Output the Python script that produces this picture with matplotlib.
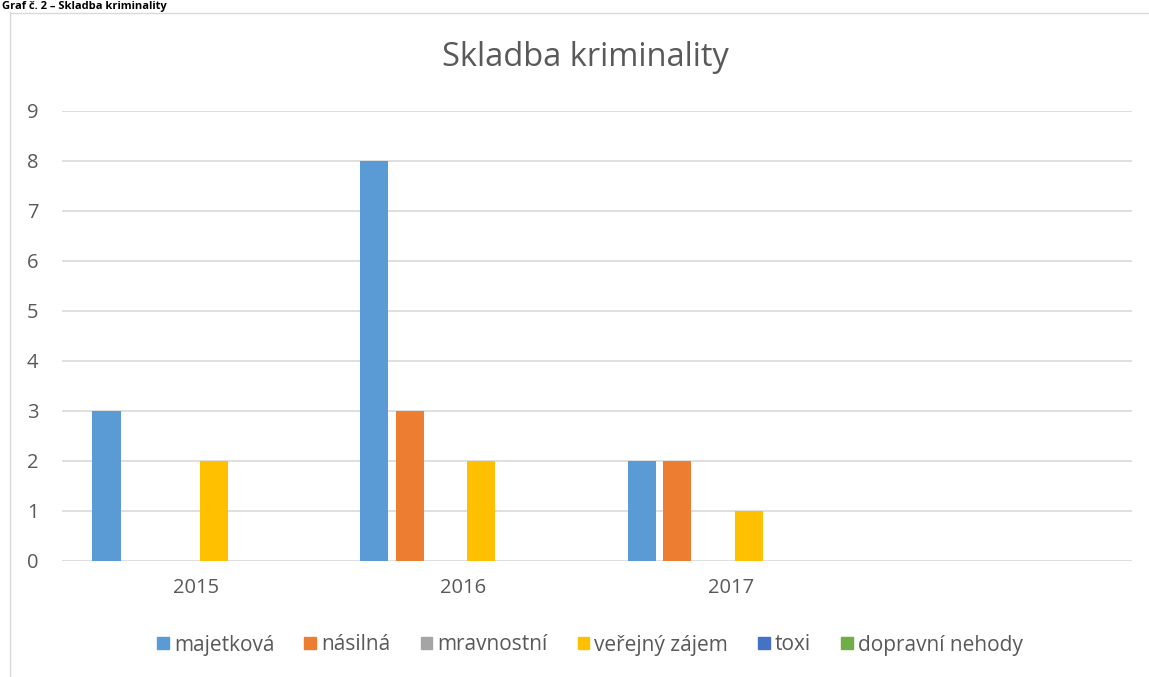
import matplotlib
matplotlib.use("Agg")
import matplotlib.pyplot as plt
from matplotlib.lines import Line2D
import numpy as np

plt.rcParams['font.family'] = ['Open Sans', 'DejaVu Sans']

categories = ["2015", "2016", "2017", ""]
series_names = ["majetková", "násilná", "mravnostní", "veřejný zájem", "toxi", "dopravní nehody"]
majetkova = [3, 8, 2, 0]
nasilna = [0, 3, 2, 0]
mravnostni = [0, 0, 0, 0]
verejny_zajem = [2, 2, 1, 0]
toxi = [0, 0, 0, 0]
dopravni_nehody = [0, 0, 0, 0]
series_values = [majetkova, nasilna, mravnostni, verejny_zajem, toxi, dopravni_nehody]
colors = ["#5B9BD5", "#ED7D31", "#A5A5A5", "#FFC000", "#4472C4", "#70AD47"]

W, H = 1149, 677
fig = plt.figure(figsize=(W / 100, H / 100), dpi=100)

# chart border (partly outside the picture)
fig.add_artist(Line2D([9.5 / W, 9.5 / W], [0, 1 - 12 / H], transform=fig.transFigure, color="#D9D9D9", lw=1))
fig.add_artist(Line2D([9.5 / W, 1], [1 - 12.5 / H, 1 - 12.5 / H], transform=fig.transFigure, color="#D9D9D9", lw=1))

# caption above chart (in the reference it is largely cut by the top edge)
fig.text(2 / W, 1 - 1 / H, "Graf č. 2 – Skladba kriminality", fontsize=8, fontweight="bold",
         color="black", va="top", ha="left")

ax = fig.add_axes([62 / W, 1 - 561 / H, (1132 - 62) / W, (561 - 111) / H])
x = np.arange(len(categories))
step = 35.7 / 267.5
width = 28 / 267.5
for i, (name, vals, c) in enumerate(zip(series_names, series_values, colors)):
    ax.bar(x + (i - 2.5) * step, vals, width=width, color=c, label=name, zorder=3)

ax.set_xlim(-0.5, len(categories) - 0.5)
ax.set_ylim(0, 9)
ax.set_yticks(range(0, 10))
ax.set_xticks(x)
ax.set_xticklabels(categories)
ax.yaxis.grid(True, color="#D9D9D9", lw=1.2, zorder=0)
for s in ax.spines.values():
    s.set_visible(False)
ax.tick_params(axis="both", length=0, colors="#595959", labelsize=14.5)
ax.tick_params(axis="y", pad=17)
ax.tick_params(axis="x", pad=12)

fig.text(585 / W, 1 - 58 / H, "Skladba kriminality", fontsize=23.5, color="#595959", ha="center", va="center")

handles = [plt.Rectangle((0, 0), 1, 1, color=c) for c in colors]
fig.legend(handles, series_names, loc="center", bbox_to_anchor=(590 / W, 1 - 645 / H), ncol=6,
           frameon=False, fontsize=15, handlelength=0.55, handleheight=0.55, handletextpad=0.25,
           columnspacing=1.45, labelcolor="#595959")

fig.savefig("out.png", dpi=100)
